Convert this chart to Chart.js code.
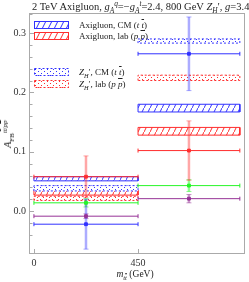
<!DOCTYPE html>
<html>
<head>
<meta charset="utf-8">
<script src="https://cdn.jsdelivr.net/npm/chart.js@4.4.1/dist/chart.umd.min.js"></script>
<style>
  body { margin: 0; background: #fff; }
  #wrap { position: relative; width: 249px; height: 282px; font-family: "Liberation Serif", "DejaVu Serif", serif; color: #222; }
  #c { position: absolute; left: 0; top: 0; }
  .txt { position: absolute; white-space: nowrap; line-height: 1; }
  .ov { text-decoration: overline; }
  sub, sup { font-size: 70%; line-height: 0; }
  .sw { position: absolute; }
</style>
</head>
<body>
<div id="wrap">
  <canvas id="c" width="249" height="282"></canvas>
  <div class="txt" id="title" style="left:32px;top:2px;font-size:10.5px">2 TeV Axigluon, <i>g<sub>A</sub><sup>q</sup></i>=&minus;<i>g<sub>A</sub><sup>t</sup></i>=2.4, 800 GeV <i>Z<sub>H</sub></i>&#8242;, <i>g</i>=3.4</div>
  <canvas class="sw" id="sw1" width="35" height="8" style="left:34px;top:21px"></canvas>
  <canvas class="sw" id="sw2" width="35" height="8" style="left:34px;top:32px"></canvas>
  <canvas class="sw" id="sw3" width="35" height="8" style="left:34px;top:68px"></canvas>
  <canvas class="sw" id="sw4" width="35" height="8" style="left:34px;top:80px"></canvas>
  <div class="txt" style="left:79px;top:21px;font-size:9px">Axigluon, CM (<i>t <span class="ov">t</span></i>)</div>
  <div class="txt" style="left:79px;top:32px;font-size:9px">Axigluon, lab (<i>p <span class="ov">p</span></i>)</div>
  <div class="txt" style="left:79px;top:68px;font-size:9px"><i>Z<sub>H</sub></i>&#8242;, CM (<i>t <span class="ov">t</span></i>)</div>
  <div class="txt" style="left:79px;top:80px;font-size:9px"><i>Z<sub>H</sub></i>&#8242;, lab (<i>p <span class="ov">p</span></i>)</div>
  <div class="txt" style="left:8px;top:134px;font-size:10px;transform:translate(-50%,-50%) rotate(-90deg)"><i>A</i><sub>FB</sub><sup><i>t<span class="ov">t</span></i>/<i>p<span class="ov">p</span></i></sup></div>
  <div class="txt" style="left:135px;top:275px;font-size:9.5px;transform:translate(-50%,-50%)"><i>m<sub>t<span class="ov">t</span></sub></i> (GeV)</div>
</div>
<script>
// bins in m_tt (GeV)
var binEdges = [0, 450, 890];
var binCenters = [225, 670];
var xTicks = [0, 450];

// predicted bands per bin [bin1, bin2]
var axiCmLo = [0.051, 0.167], axiCmHi = [0.058, 0.180];
var axiLabLo = [0.027, 0.128], axiLabHi = [0.035, 0.141];
var zhCmLo = [0.034, 0.283], zhCmHi = [0.043, 0.290];
var zhLabLo = [0.018, 0.220], zhLabHi = [0.025, 0.229];

// points with errors
var blueVal = [-0.022, 0.265], blueErr = [0.042, 0.062];
var redVal = [0.058, 0.102], redErr = [0.035, 0.050];
var greenVal = [0.014, 0.043], greenErr = [0.007, 0.010];
var purpleVal = [-0.0085, 0.021], purpleErr = [0.004, 0.007];

var BLUE = 'rgb(50,50,255)', RED = 'rgb(255,45,45)', GREEN = 'rgb(40,245,40)', PURPLE = 'rgb(150,50,150)';
var BLUE_L = 'rgba(70,70,255,0.45)', RED_L = 'rgba(255,60,60,0.45)', GREEN_L = 'rgba(40,245,40,0.5)', PURPLE_L = 'rgba(150,50,150,0.5)';

function hatch(color) {
    var c = document.createElement('canvas');
    c.width = 6; c.height = 12;
    var g = c.getContext('2d');
    g.fillStyle = '#fff';
    g.fillRect(0, 0, 6, 12);
    g.strokeStyle = color;
    g.lineWidth = 1;
    g.beginPath(); g.moveTo(0, 12); g.lineTo(6, 0); g.stroke();
    return g.createPattern(c, 'repeat');
}
function dots(color) {
    var c = document.createElement('canvas');
    c.width = 6; c.height = 4;
    var g = c.getContext('2d');
    g.fillStyle = '#fff';
    g.fillRect(0, 0, 6, 4);
    g.fillStyle = color;
    g.fillRect(1, 1, 1, 1);
    g.fillRect(4, 3, 1, 1);
    return g.createPattern(c, 'repeat');
}

function box(lo, hi, color, fillPat, dash, i) {
    var x0 = binEdges[i], x1 = binEdges[i + 1];
    return {
        data: [{x: x0, y: lo[i]}, {x: x0, y: hi[i]}, {x: x1, y: hi[i]}, {x: x1, y: lo[i]}, {x: x0, y: lo[i]}],
        borderColor: color, borderWidth: 1, borderDash: dash,
        backgroundColor: fillPat, fill: 'shape',
        pointRadius: 0, tension: 0, order: 3
    };
}
function vbar(val, err, color, i) {
    return {
        data: [{x: binCenters[i], y: val[i] - err[i]}, {x: binCenters[i], y: val[i] + err[i]}],
        borderColor: color, borderWidth: 2.5, fill: false,
        pointStyle: 'line', pointRadius: 2.5, pointBorderColor: color, pointBorderWidth: 1,
        order: 2
    };
}
function hbar(val, color, i) {
    return {
        data: [{x: binEdges[i], y: val[i]}, {x: binEdges[i + 1], y: val[i]}],
        borderColor: color, borderWidth: 1, fill: false,
        pointStyle: 'line', rotation: 90, pointRadius: 2, pointBorderColor: color, pointBorderWidth: 1,
        order: 1
    };
}
function pt(val, color, i) {
    return {
        data: [{x: binCenters[i], y: val[i]}],
        showLine: false, pointStyle: 'rect', pointRadius: 2,
        pointBackgroundColor: color, pointBorderColor: color, order: 0
    };
}

var datasets = [];
[0, 1].forEach(function (i) {
    datasets.push(box(zhLabLo, zhLabHi, RED, dots(RED), [2, 2], i));
    datasets.push(box(zhCmLo, zhCmHi, BLUE, dots(BLUE), [2, 2], i));
    datasets.push(box(axiLabLo, axiLabHi, RED, hatch(RED), [], i));
    datasets.push(box(axiCmLo, axiCmHi, BLUE, hatch(BLUE), [], i));
    [[blueVal, blueErr, BLUE, BLUE_L], [redVal, redErr, RED, RED_L],
     [greenVal, greenErr, GREEN, GREEN_L], [purpleVal, purpleErr, PURPLE, PURPLE_L]].forEach(function (s) {
        datasets.push(vbar(s[0], s[1], s[3], i));
        datasets.push(hbar(s[0], s[2], i));
        datasets.push(pt(s[0], s[2], i));
    });
});

// frame + inward tick marks
var framePlugin = {
    id: 'frame',
    beforeDatasetsDraw: function (chart) {
        var a = chart.chartArea, ctx = chart.ctx;
        ctx.save();
        ctx.strokeStyle = '#aaa';
        ctx.lineWidth = 1;
        ctx.strokeRect(a.left - 0.5, a.top - 0.5, a.right - a.left + 1, a.bottom - a.top + 1);
        var ys = chart.scales.y;
        ys.ticks.forEach(function (t) {
            var y = Math.round(ys.getPixelForValue(t.value)) + 0.5;
            var major = Math.abs(Math.round(t.value * 100)) % 10 === 0;
            ctx.beginPath(); ctx.moveTo(a.left, y); ctx.lineTo(a.left + (major ? 4 : 2.5), y); ctx.stroke();
        });
        var xs = chart.scales.x;
        xs.ticks.forEach(function (t) {
            var x = Math.round(xs.getPixelForValue(t.value)) + 0.5;
            ctx.beginPath(); ctx.moveTo(x, a.bottom); ctx.lineTo(x, a.bottom - 4); ctx.stroke();
        });
        ctx.restore();
    }
};

new Chart(document.getElementById('c').getContext('2d'), {
    type: 'line',
    data: {datasets: datasets},
    options: {
        responsive: false,
        animation: false,
        devicePixelRatio: 1,
        layout: {padding: {top: 14, right: 1, left: 0, bottom: 0}},
        plugins: {legend: {display: false}, tooltip: {enabled: false}},
        scales: {
            x: {
                type: 'linear', min: -17, max: 908,
                afterBuildTicks: function (s) { s.ticks = xTicks.map(function (v) { return {value: v}; }); },
                afterFit: function (s) { s.height = 29; },
                grid: {display: false, drawTicks: false},
                border: {display: false},
                ticks: {padding: 4, color: '#333', font: {family: 'Liberation Serif', size: 10}, maxRotation: 0,
                        callback: function (v) { return String(v); }}
            },
            y: {
                min: -0.0705, max: 0.332,
                afterFit: function (s) { s.width = 30; },
                grid: {display: false, drawTicks: false},
                border: {display: false},
                ticks: {stepSize: 0.02, padding: 4, color: '#333', font: {family: 'Liberation Serif', size: 10},
                        autoSkip: false,
                        callback: function (v) {
                            var k = Math.round(v * 100);
                            return (k % 10 === 0 && Math.abs(v * 100 - k) < 1e-6) ? (k / 100).toFixed(1) : '';
                        }}
            }
        }
    },
    plugins: [framePlugin]
});

// legend swatches
function swatch(id, color, pat, dash) {
    var c = document.getElementById(id), g = c.getContext('2d');
    g.fillStyle = pat;
    g.fillRect(0, 0, c.width, c.height);
    g.strokeStyle = color; g.lineWidth = 1; g.setLineDash(dash);
    g.strokeRect(0.5, 0.5, c.width - 1, c.height - 1);
}
swatch('sw1', BLUE, hatch(BLUE), []);
swatch('sw2', RED, hatch(RED), []);
swatch('sw3', BLUE, dots(BLUE), [2, 2]);
swatch('sw4', RED, dots(RED), [2, 2]);
</script>
</body>
</html>
